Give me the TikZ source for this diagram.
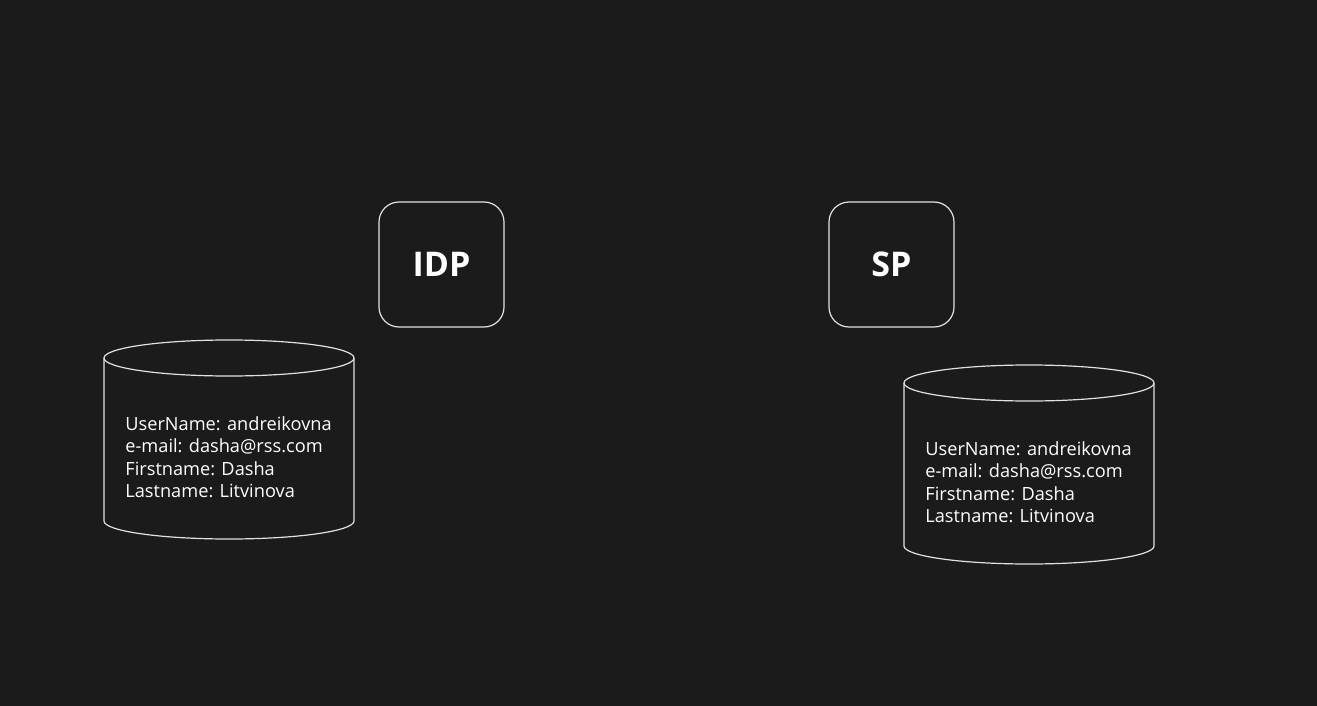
\documentclass[tikz,border=0pt]{standalone}
\usepackage{fontspec}
\setmainfont{Open Sans}
\usetikzlibrary{positioning}
\definecolor{bgdark}{HTML}{1B1B1B}
\definecolor{linegray}{HTML}{E2E2E2}

\begin{document}
\begin{tikzpicture}[x=0.5pt,y=-0.5pt,
  party/.style={draw=linegray,line width=0.6pt,rounded corners=10pt,minimum size=62.5pt,
    text=white,font=\fontsize{17}{20}\selectfont\bfseries},
  dbline/.style={draw=linegray,line width=0.6pt},
  record/.style={text=white,align=left,inner sep=0pt,anchor=west,
    font=\fontsize{9.1}{11.25}\selectfont}]
\fill[bgdark] (0,0) rectangle (1317,706);

\node[party] (idp) at (441.5,264.5) {IDP};
\node[party] (sp) [right=161.9pt of idp] {SP};

% user store of the IDP
\draw[dbline] (104,358) -- (104,521) arc[start angle=180,end angle=0,x radius=125,y radius=18] -- (354,358);
\draw[dbline] (229,358) ellipse[x radius=125,y radius=18];
\node[record] (idpuser) at (125,457) {UserName: andreikovna\\e-mail: dasha@rss.com\\Firstname: Dasha\\Lastname: Litvinova};

% user store of the SP
\draw[dbline] (904,383) -- (904,546) arc[start angle=180,end angle=0,x radius=125,y radius=18] -- (1154,383);
\draw[dbline] (1029,383) ellipse[x radius=125,y radius=18];
\node[record] (spuser) at (925,482) {UserName: andreikovna\\e-mail: dasha@rss.com\\Firstname: Dasha\\Lastname: Litvinova};
\end{tikzpicture}
\end{document}
